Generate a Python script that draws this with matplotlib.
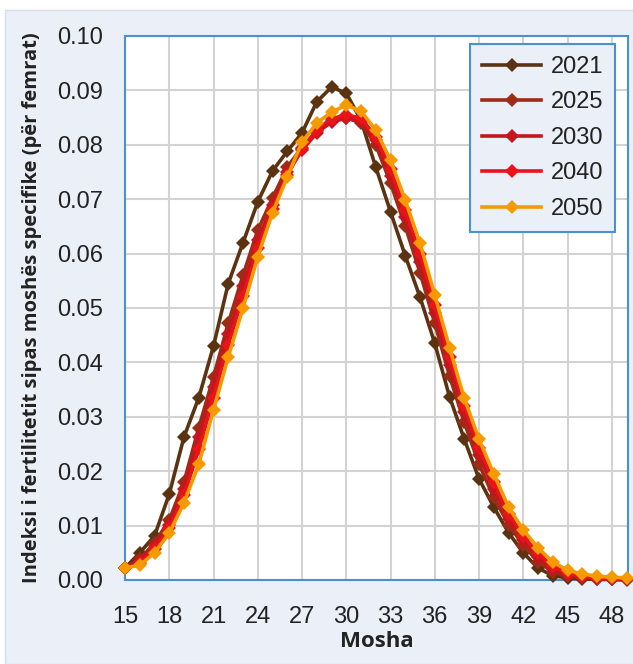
import matplotlib
matplotlib.use("Agg")
import matplotlib.pyplot as plt
from matplotlib.patches import Rectangle

ages = list(range(15, 50))
years = ["2021", "2025", "2030", "2040", "2050"]

asfr_2021 = [0.0022, 0.0050, 0.0081, 0.0158, 0.0263, 0.0335, 0.0430, 0.0545, 0.0620, 0.0695,
             0.0752, 0.0788, 0.0822, 0.0879, 0.0906, 0.0895, 0.0845, 0.0759, 0.0677, 0.0596,
             0.0520, 0.0435, 0.0337, 0.0259, 0.0186, 0.0134, 0.0087, 0.0050, 0.0022, 0.0008,
             0.0004, 0.0002, 0.0001, 0.0001, 0.0000]
asfr_2025 = [0.0022, 0.0038, 0.0068, 0.0110, 0.0180, 0.0280, 0.0373, 0.0472, 0.0560, 0.0643,
             0.0702, 0.0759, 0.0795, 0.0825, 0.0843, 0.0850, 0.0840, 0.0800, 0.0730, 0.0650,
             0.0565, 0.0472, 0.0375, 0.0290, 0.0213, 0.0152, 0.0102, 0.0064, 0.0034, 0.0015,
             0.0008, 0.0004, 0.0002, 0.0001, 0.0001]
asfr_2030 = [0.0022, 0.0035, 0.0062, 0.0102, 0.0168, 0.0262, 0.0355, 0.0452, 0.0540, 0.0625,
             0.0690, 0.0750, 0.0790, 0.0822, 0.0842, 0.0849, 0.0843, 0.0808, 0.0743, 0.0667,
             0.0585, 0.0490, 0.0395, 0.0308, 0.0229, 0.0167, 0.0113, 0.0073, 0.0042, 0.0020,
             0.0010, 0.0005, 0.0003, 0.0002, 0.0001]
asfr_2040 = [0.0022, 0.0032, 0.0057, 0.0095, 0.0156, 0.0240, 0.0335, 0.0432, 0.0522, 0.0610,
             0.0682, 0.0745, 0.0792, 0.0828, 0.0848, 0.0855, 0.0849, 0.0815, 0.0755, 0.0680,
             0.0600, 0.0505, 0.0410, 0.0320, 0.0243, 0.0180, 0.0122, 0.0081, 0.0049, 0.0025,
             0.0013, 0.0007, 0.0004, 0.0003, 0.0002]
asfr_2050 = [0.0022, 0.0027, 0.0050, 0.0086, 0.0142, 0.0213, 0.0313, 0.0410, 0.0500, 0.0594,
             0.0675, 0.0741, 0.0805, 0.0840, 0.0860, 0.0873, 0.0862, 0.0827, 0.0772, 0.0698,
             0.0619, 0.0524, 0.0427, 0.0334, 0.0259, 0.0195, 0.0134, 0.0092, 0.0059, 0.0033,
             0.0018, 0.0011, 0.0007, 0.0005, 0.0004]

series = [asfr_2021, asfr_2025, asfr_2030, asfr_2040, asfr_2050]
colors = ["#5C3311", "#9E2B16", "#C3171D", "#E8141A", "#F59A00"]

x_ticks = list(range(15, 49, 3))
y_ticks = [i / 100 for i in range(0, 11)]

plt.rcParams['font.family'] = ['Liberation Sans', 'DejaVu Sans']

fig = plt.figure(figsize=(6.33, 6.64), dpi=100)
bg = Rectangle((5 / 633, 0), 1, 1 - 10 / 664, transform=fig.transFigure,
               facecolor="#EAEFF8", edgecolor="#D8DDE6", linewidth=1.0, zorder=-10)
fig.add_artist(bg)

ax = fig.add_axes([125 / 633, 1 - 580 / 664, 503 / 633, 544 / 664])
ax.set_zorder(1)
ax.set_facecolor("white")

for yr, vals, c in zip(years, series, colors):
    ax.plot(ages, vals, color=c, linewidth=2.6, marker="D", markersize=7.2,
            markeredgewidth=0, label=yr, clip_on=False, zorder=3)

ax.set_xlim(15, 49.1)
ax.set_ylim(0, 0.10)
ax.set_xticks(x_ticks)
ax.set_yticks(y_ticks)
ax.set_yticklabels([f"{v:.2f}" for v in y_ticks])
ax.tick_params(axis="both", length=0, labelsize=17, colors="#222222")
ax.tick_params(axis="y", pad=16)
ax.tick_params(axis="x", pad=19)
ax.grid(True, color="#D3D3D3", linewidth=1.5, zorder=0)
ax.set_axisbelow(True)
for s in ax.spines.values():
    s.set_color("#4A90D2")
    s.set_linewidth(1.5)

ax.set_xlabel("Mosha", fontsize=16, fontweight="bold", color="#222222", labelpad=2,
              family=["Open Sans", "DejaVu Sans"])
ax.set_ylabel("Indeksi i fertilitetit sipas moshës specifike (për femrat)", fontsize=14.5,
              fontweight="bold", color="#222222",
              family=["Open Sans", "DejaVu Sans"])
ax.yaxis.set_label_coords(-0.165, 0.5)

leg = ax.legend(loc="upper right", bbox_to_anchor=(0.974, 0.985), fontsize=17,
                frameon=True, fancybox=False, handlelength=2.5, labelspacing=0.57,
                borderpad=0.5, handletextpad=0.4, borderaxespad=0)
leg.get_frame().set_edgecolor("#4A90D2")
leg.get_frame().set_linewidth(1.5)
leg.get_frame().set_facecolor("#EAEFF8")
leg.get_frame().set_alpha(1)
for t in leg.get_texts():
    t.set_color("#222222")

fig.savefig("out.png", dpi=100)
